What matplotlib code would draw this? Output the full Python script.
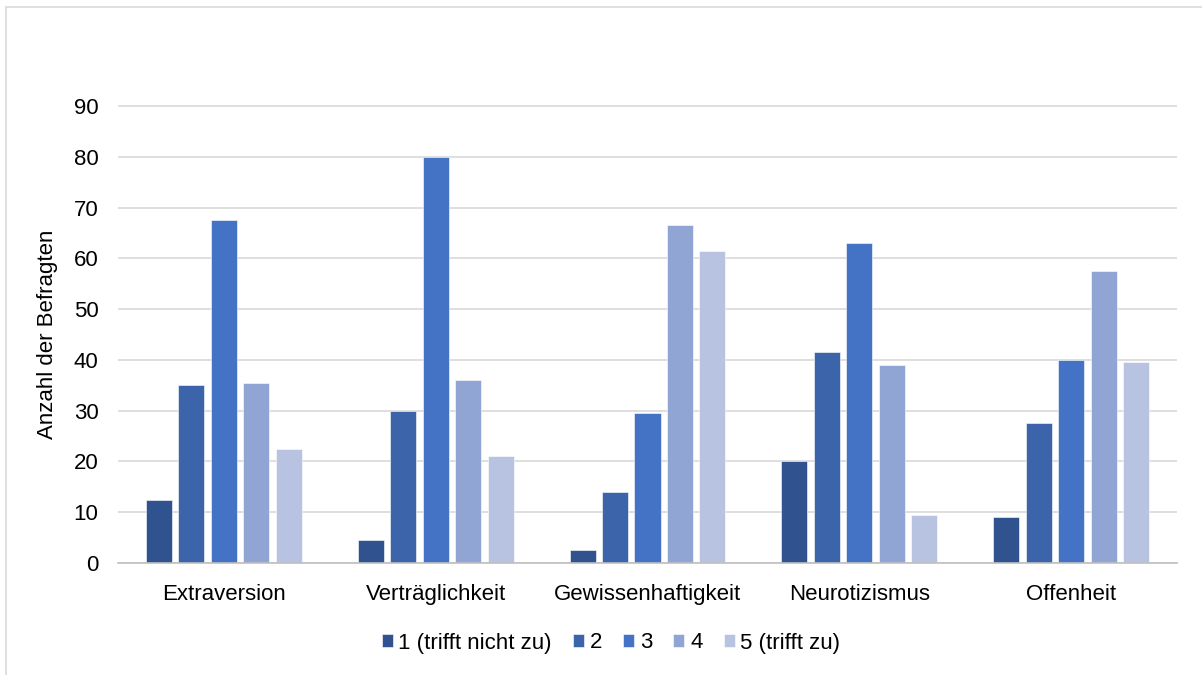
import matplotlib
matplotlib.use('Agg')
import matplotlib.pyplot as plt
import numpy as np
from matplotlib.patches import Rectangle

plt.rcParams['font.family'] = ['Liberation Sans', 'DejaVu Sans']

categories = ['Extraversion', 'Verträglichkeit', 'Gewissenhaftigkeit',
              'Neurotizismus', 'Offenheit']
series_names = ['1 (trifft nicht zu)', '2', '3', '4', '5 (trifft zu)']
values = [
    [12.5, 4.5, 2.5, 20, 9],       # 1 (trifft nicht zu)
    [35, 30, 14, 41.5, 27.5],      # 2
    [67.5, 80, 29.5, 63, 40],      # 3
    [35.5, 36, 66.5, 39, 57.5],    # 4
    [22.5, 21, 61.5, 9.5, 39.5],   # 5 (trifft zu)
]
colors = ['#30538F', '#3C64AA', '#4472C4', '#91A5D4', '#B8C3E2']

fig = plt.figure(figsize=(12.02, 6.75), dpi=100)
ax = fig.add_axes([118 / 1202, 1 - 563 / 675, (1177 - 118) / 1202, (563 - 106) / 675 * 100 / 90])

# outer chart frame
fig.patches.append(Rectangle((6 / 1202, -0.1), 1.2, 1 - 7 / 675 + 0.1,
                             transform=fig.transFigure, fill=False,
                             edgecolor='#D9D9D9', linewidth=1.2))

x = np.arange(len(categories))
step = 0.1534
width = 0.1228
for i, (name, vals) in enumerate(zip(series_names, values)):
    ax.bar(x + (i - 2) * step, vals, width, color=colors[i], label=name,
           edgecolor='white', linewidth=0.4, zorder=3)

ax.set_xlim(-0.5, len(categories) - 0.5)
ax.set_ylim(0, 100)
ax.set_yticks(np.arange(0, 91, 10))
ax.set_xticks(x)
ax.set_xticklabels(categories)
ax.tick_params(axis='both', length=0, labelsize=16, colors='#000000')
ax.tick_params(axis='x', pad=15)
ax.tick_params(axis='y', pad=14)
ax.yaxis.grid(True, color='#D9D9D9', linewidth=1.2, zorder=0)
for s in ['top', 'right', 'left']:
    ax.spines[s].set_visible(False)
ax.spines['bottom'].set_color('#BFBFBF')
ax.spines['bottom'].set_linewidth(1.2)
ax.spines['bottom'].set_zorder(4)
ax.set_ylabel('Anzahl der Befragten', fontsize=16)
ax.yaxis.set_label_coords(-0.057, 0.45)

fig.legend(loc='center', bbox_to_anchor=(611 / 1202, 1 - 643 / 675), ncol=5,
           frameon=False, fontsize=16, handlelength=0.5, handleheight=0.5,
           handletextpad=0.25, columnspacing=0.95)

plt.savefig('out.png', dpi=100)
